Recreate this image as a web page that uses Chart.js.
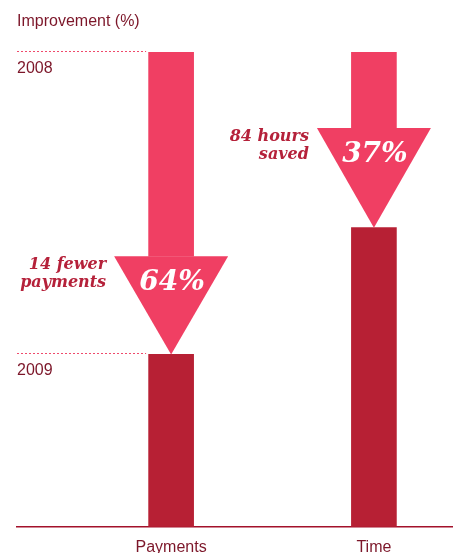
<!DOCTYPE html>
<html>
<head>
<meta charset="utf-8">
<script src="https://cdn.jsdelivr.net/npm/chart.js@4"></script>
<style>
  html, body { margin: 0; padding: 0; background: #fff; }
  #wrap { width: 453px; height: 553px; }
</style>
</head>
<body>
<div id="wrap"><canvas id="myChart" width="453" height="553"></canvas></div>
<script>
const categories = ["Payments", "Time"];
const xPos = [1, 2];
const value2008 = [100, 100];
const value2009 = [36.3, 63];
const arrowTop = [57, 84];
const improvement = ["64%", "37%"];
const notes = [["14 fewer", "payments"], ["84 hours", "saved"]];
const yearLabels = ["2008", "2009"];

const pink = "#f03f63";
const darkRed = "#b72034";
const maroon = "#7c1629";

// triangles, percentages, side notes, dotted year lines
const arrowPlugin = {
  id: "arrows",
  afterDatasetsDraw(chart) {
    const ctx = chart.ctx;
    const x = chart.scales.x;
    const y = chart.scales.y;
    const half = 57;
    ctx.save();
    for (let i = 0; i < categories.length; i++) {
      const cx = x.getPixelForValue(xPos[i]);
      const top = y.getPixelForValue(arrowTop[i]);
      const tip = y.getPixelForValue(value2009[i]);
      ctx.fillStyle = pink;
      ctx.beginPath();
      ctx.moveTo(cx - half, top);
      ctx.lineTo(cx + half, top);
      ctx.lineTo(cx, tip);
      ctx.closePath();
      ctx.fill();

      ctx.fillStyle = "#fff";
      ctx.font = "italic bold 28px 'DejaVu Serif'";
      ctx.textAlign = "center";
      ctx.textBaseline = "middle";
      ctx.fillText(improvement[i], cx + 1, top + 27);

      ctx.fillStyle = "#b5213a";
      ctx.font = "italic bold 16px 'DejaVu Serif'";
      ctx.textAlign = "right";
      ctx.fillText(notes[i][0], cx - half - 8, top + 9);
      ctx.fillText(notes[i][1], cx - half - 8, top + 27);
    }

    // dotted reference lines for 2008 / 2009
    const levels = [value2008[0], value2009[0]];
    const left = chart.chartArea.left;
    const right = x.getPixelForValue(xPos[0]) - 25;
    ctx.strokeStyle = "#ef4a6c";
    ctx.lineWidth = 1;
    ctx.setLineDash([2, 2]);
    ctx.font = "16px 'Liberation Sans'";
    ctx.textAlign = "left";
    ctx.textBaseline = "middle";
    for (let j = 0; j < levels.length; j++) {
      const ly = Math.round(y.getPixelForValue(levels[j])) - 0.5;
      ctx.beginPath();
      ctx.moveTo(left, ly);
      ctx.lineTo(right, ly);
      ctx.stroke();
      ctx.fillStyle = maroon;
      ctx.fillText(yearLabels[j], left, ly + 17);
    }
    ctx.setLineDash([]);
    ctx.fillText("Improvement (%)", left, 22);
    ctx.restore();
  }
};

const ctx = document.getElementById("myChart").getContext("2d");
const chart = new Chart(ctx, {
  type: "bar",
  data: {
    datasets: [
      {
        label: "2009",
        backgroundColor: darkRed,
        data: xPos.map((p, i) => ({ x: p, y: value2009[i] })),
        barThickness: 45,
        grouped: false,
      },
      {
        label: "Shaft",
        backgroundColor: pink,
        data: xPos.map((p, i) => ({ x: p, y: [arrowTop[i], value2008[i]] })),
        barThickness: 45,
        grouped: false,
      },
    ],
  },
  plugins: [arrowPlugin],
  options: {
    responsive: false,
    animation: false,
    layout: { padding: { top: 52, left: 17, right: 0, bottom: -15 } },
    plugins: { legend: { display: false }, tooltip: { enabled: false } },
    scales: {
      x: {
        type: "linear",
        min: 0.24,
        max: 2.39,
        offset: false,
        grid: { display: false, drawTicks: false },
        border: { display: true, color: "#a3112b", width: 1.5 },
        afterBuildTicks: (axis) => {
          axis.ticks = xPos.map((v) => ({ value: v }));
        },
        ticks: {
          color: maroon,
          font: { family: "'Liberation Sans'", size: 16 },
          padding: 11,
          autoSkip: false,
          maxRotation: 0,
          callback: (v) => categories[xPos.indexOf(v)],
        },
      },
      y: {
        min: 0,
        max: 100,
        display: false,
      },
    },
  },
});
</script>
</body>
</html>
